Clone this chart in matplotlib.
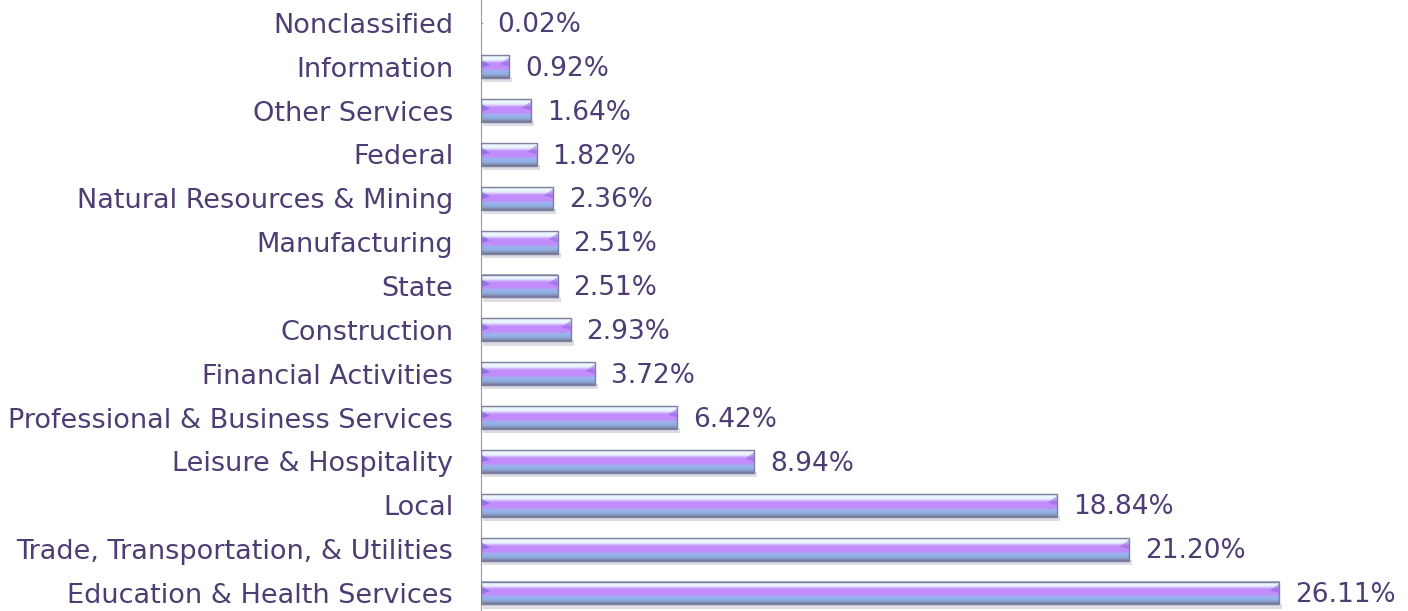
import numpy as np
import matplotlib.pyplot as plt
from matplotlib.colors import LinearSegmentedColormap
from matplotlib.patches import Rectangle, Polygon

# Share of employment by industry (%), bottom to top
industries = ['Education & Health Services', 'Trade, Transportation, & Utilities', 'Local',
              'Leisure & Hospitality', 'Professional & Business Services', 'Financial Activities',
              'Construction', 'State', 'Manufacturing', 'Natural Resources & Mining',
              'Federal', 'Other Services', 'Information', 'Nonclassified']
shares = [26.11, 21.20, 18.84, 8.94, 6.42, 3.72, 2.93, 2.51, 2.51, 2.36, 1.82, 1.64, 0.92, 0.02]

text_color = '#4e3d72'

fig = plt.figure(figsize=(14.08, 6.11), dpi=100)
ax = fig.add_axes([0.3416, 0, 0.6584, 1])

# tube-like vertical gradient (top -> bottom)
tube = LinearSegmentedColormap.from_list('tube', [
    (0.00, '#8a8fae'), (0.05, '#f2f9ff'), (0.22, '#e4f0fc'), (0.32, '#c898fd'),
    (0.40, '#c38bfd'), (0.60, '#c28dfc'), (0.68, '#9cb3ec'), (0.84, '#8eafe6'),
    (0.93, '#8890b0'), (1.00, '#70769a')])
grad = np.linspace(0, 1, 64).reshape(-1, 1)

h = 0.52
cap = 0.3  # width of the bevel triangles in x units
for i, v in enumerate(shares):
    if v < 0.1:
        ax.plot([0, v], [i, i], color='#8a8fae', lw=1)
    else:
        # soft shadow below the bar
        ax.add_patch(Rectangle((0.05, i - h / 2 - 0.1), v + 0.05, 0.12, color='#b4b4c2',
                               alpha=0.45, lw=0, zorder=1))
        ax.imshow(tube(grad), extent=[0, v, i - h / 2, i + h / 2], aspect='auto',
                  interpolation='bilinear', zorder=2)
        c = min(cap, v / 3)
        # left bevel
        ax.add_patch(Polygon([(0, i + h * 0.3), (c, i + h * 0.08), (0, i - h * 0.05)], closed=True,
                             color='#7060d8', lw=0, alpha=0.6, zorder=2.5))
        # right bevel
        ax.add_patch(Polygon([(v, i + h * 0.4), (v - c, i + h * 0.12), (v, i)],
                             closed=True, color='#8a60e0', lw=0, alpha=0.5, zorder=2.5))
        ax.add_patch(Rectangle((0, i - h / 2), v, h, fill=False, ec='#7c809e', lw=1, zorder=3))
    ax.text(v + 0.52, i - 0.05, f'{v:.2f}%', va='center', ha='left', fontsize=19,
            color=text_color, zorder=4)

ax.set_xlim(0, 30.33)
ax.set_ylim(-0.41, 13.52)
ax.set_yticks(range(len(industries)))
ax.set_yticklabels(industries, fontsize=19.5, color=text_color)
ax.tick_params(axis='y', length=0, pad=20)
ax.set_xticks([])
for s in ['top', 'right', 'bottom']:
    ax.spines[s].set_visible(False)
ax.spines['left'].set_color('#9a9aa8')
ax.patch.set_alpha(0)

fig.savefig('out.png', dpi=100)
